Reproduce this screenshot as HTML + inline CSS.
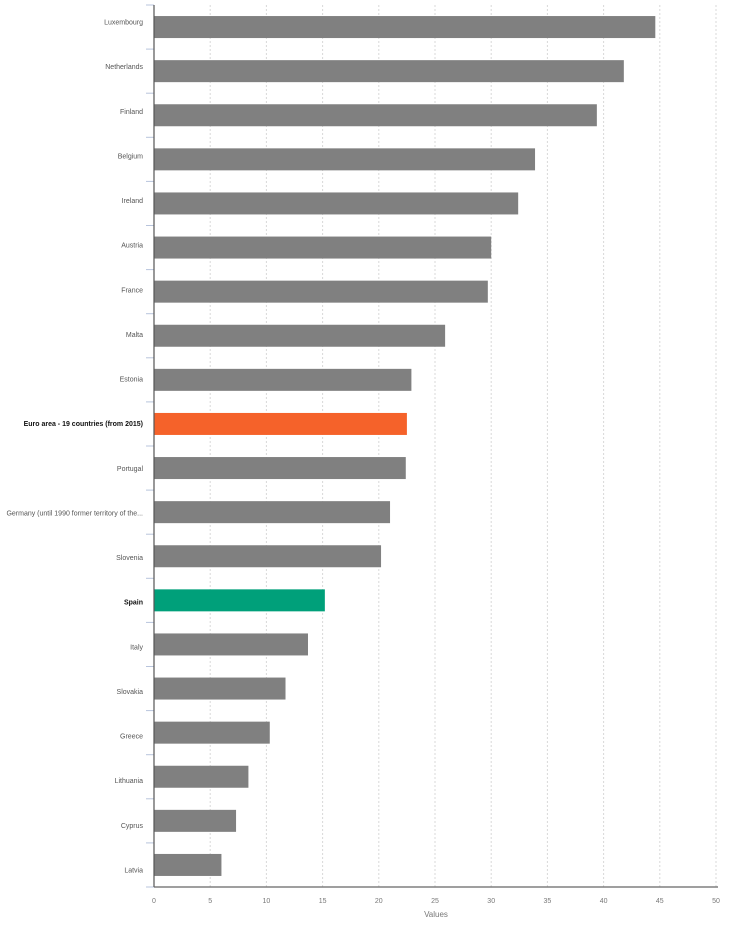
<!DOCTYPE html>
<html><head><meta charset="utf-8"><style>
body{margin:0;background:#fff;font-family:"Liberation Sans",sans-serif}
svg text{font-family:"Liberation Sans",sans-serif}
</style></head><body>
<svg id="chart" width="754" height="933" xmlns="http://www.w3.org/2000/svg"></svg>
<script>
const categories=["Luxembourg","Netherlands","Finland","Belgium","Ireland","Austria","France","Malta","Estonia","Euro area - 19 countries (from 2015)","Portugal","Germany (until 1990 former territory of the...","Slovenia","Spain","Italy","Slovakia","Greece","Lithuania","Cyprus","Latvia"];
const values=[44.6,41.8,39.4,33.9,32.4,30.0,29.7,25.9,22.9,22.5,22.4,21.0,20.2,15.2,13.7,11.7,10.3,8.4,7.3,6.0];
const highlights=["","","","","","","","","","euro","","","","spain","","","","","",""];
const ticks=[0,5,10,15,20,25,30,35,40,45,50];
const NS="http://www.w3.org/2000/svg";
const svg=document.getElementById('chart');
const X0=154,X1=716,Y0=5,Y1=887,maxV=50;
const x=v=>X0+(v/maxV)*(X1-X0);
const band=(Y1-Y0)/categories.length;
const y=i=>Y0+i*band;
const labelY=i=>22+i*(870-22)/(categories.length-1);
function mk(t,a){const e=document.createElementNS(NS,t);for(const k in a)e.setAttribute(k,a[k]);svg.appendChild(e);return e;}
ticks.forEach((t,i)=>{
  const g=mk('line',{x1:x(t),x2:x(t),y1:Y0,y2:Y1,stroke:'#d8d8d8','stroke-dasharray':'2,2'});
  
  
  const l=mk('text',{x:x(t),y:903,'font-size':7,fill:'#777','text-anchor':'middle'});
  l.textContent=t;
  
  
});
for(let i=0;i<=categories.length;i++){
  const tk=mk('line',{x1:X0-8,x2:X0,y1:y(i),y2:y(i),stroke:'#b8c4dc','stroke-width':1});
  
  
}
categories.forEach((c,i)=>{
  const h=highlights[i];
  const col=h==='euro'?'#f5622a':h==='spain'?'#00a07a':'#808080';
  const cy=y(i)+band/2;
  const b=mk('rect',{x:X0,y:cy-11,width:x(values[i])-X0,height:22,fill:col});
  
  
  const t=mk('text',{x:143,y:labelY(i)+2.5,'font-size':7,fill:h?'#111':'#555','text-anchor':'end','font-weight':h?'bold':'normal'});
  t.textContent=c;
  
  
});
const ax=mk('line',{x1:X0,x2:X0,y1:Y0,y2:Y1,stroke:'#555','stroke-width':1.2});


const bx=mk('line',{x1:X0,x2:X1+2,y1:Y1,y2:Y1,stroke:'#666','stroke-width':1.2});


const tt=mk('text',{x:436,y:917,'font-size':8,fill:'#777','text-anchor':'middle'});
tt.textContent='Values';


</script>
</body></html>
